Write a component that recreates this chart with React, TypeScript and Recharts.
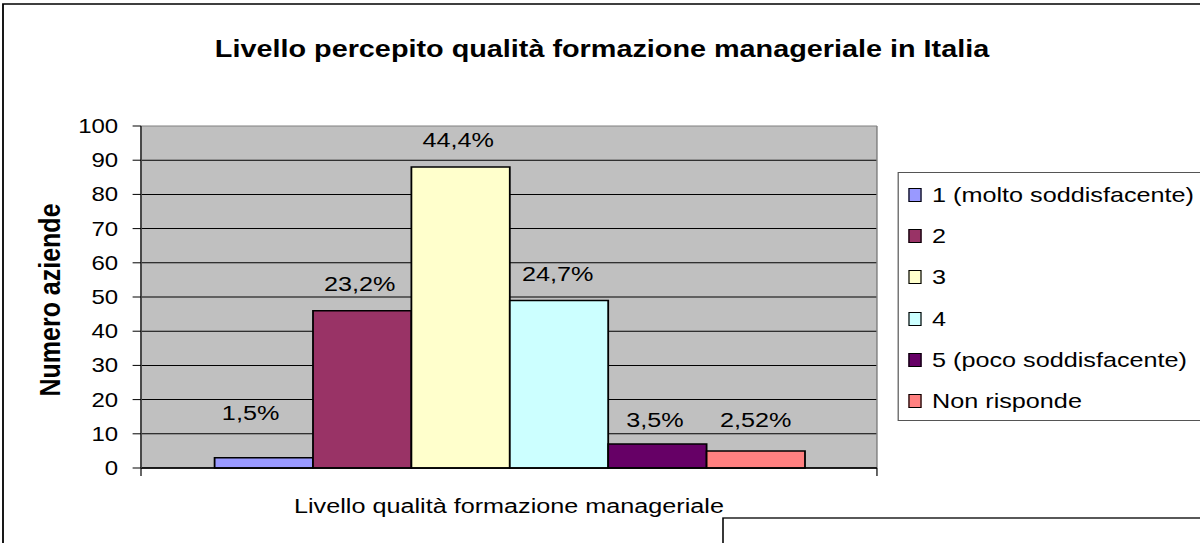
import React from "react";
import {
  BarChart,
  Bar,
  XAxis,
  YAxis,
  CartesianGrid,
  Legend,
  Label,
  LabelList,
} from "recharts";

// ---------- data ----------
const TITLE = "Livello percepito qualità formazione manageriale in Italia";
const CATEGORY = "Livello qualità formazione manageriale";
const Y_TITLE = "Numero aziende";
const seriesNames = [
  "1 (molto soddisfacente)",
  "2",
  "3",
  "4",
  "5 (poco soddisfacente)",
  "Non risponde",
];
const seriesValues = [3, 46, 88, 49, 7, 5];
const percentLabels = ["1,5%", "23,2%", "44,4%", "24,7%", "3,5%", "2,52%"];
const yTicks = [0, 10, 20, 30, 40, 50, 60, 70, 80, 90, 100];
const edgeTicks = [0, 1];

// ---------- styles ----------
const seriesColors = ["#9999FF", "#993366", "#FFFFCC", "#CCFFFF", "#660066", "#FF8080"];
const labelDx = [-11, -2, -2, -1, -2, 0];
const labelLift = [45, 27, 27, 27, 24, 31];
const FONT = '"Liberation Sans", Arial, sans-serif';
const STRETCH = 1.2;
const W = 1000;
const H = 543;
const M_TOP = 126;
const M_RIGHT = 269.2;
const Y_AXIS_W = 117.5;
const X_AXIS_H = 75;

const chartData = [
  seriesValues.reduce(
    (row: Record<string, any>, v, i) => {
      row["v" + i] = v;
      return row;
    },
    { name: CATEGORY, edge: 0.5 } as Record<string, any>
  ),
];

const makeLabel = (i: number) => (p: any) => {
  const vb = p.viewBox && p.viewBox.width !== undefined ? p.viewBox : p;
  const x = Number(vb.x) + Number(vb.width) / 2 + labelDx[i];
  const y = Number(vb.y) - labelLift[i];
  return (
    <text
      x={x}
      y={y}
      textAnchor="middle"
      dominantBaseline="central"
      fontSize={21}
      fontFamily={FONT}
      fill="#000"
    >
      {percentLabels[i]}
    </text>
  );
};

const renderHLine = (p: any) => (
  <line
    key={"h" + p.index + "-" + p.y1}
    x1={p.x1}
    y1={p.y1}
    x2={p.x2}
    y2={p.y2}
    stroke={p.y1 <= M_TOP + 1 ? "#808080" : "#000"}
    strokeWidth={1}
  />
);

const renderVLine = (p: any) => (
  <line
    key={"v" + p.index + "-" + p.x1}
    x1={p.x1}
    y1={p.y1}
    x2={p.x2}
    y2={p.y2}
    stroke="#808080"
    strokeWidth={1.2}
  />
);

const renderYTitle = (p: any) => {
  const vb = p.viewBox || {};
  const cx = Number(vb.x) + 41.7;
  const cy = Number(vb.y) + Number(vb.height) / 2 + 3;
  return (
    <text
      x={cx}
      y={cy}
      transform={`rotate(-90, ${cx}, ${cy})`}
      textAnchor="middle"
      dominantBaseline="central"
      fontSize={25}
      fontWeight="bold"
      fontFamily={FONT}
      fill="#000"
    >
      {Y_TITLE}
    </text>
  );
};

const renderLegend = () => (
  <div
    style={{
      width: 255,
      height: 249,
      boxSizing: "border-box",
      border: "1px solid #555",
      background: "#fff",
      paddingTop: 1.4,
      fontFamily: FONT,
      fontSize: 21,
      color: "#000",
    }}
  >
    {seriesNames.map((n, i) => (
      <div
        key={n}
        style={{ height: 41.2, display: "flex", alignItems: "center", whiteSpace: "nowrap" }}
      >
        <span
          style={{
            display: "inline-block",
            width: 9.7,
            height: 12,
            border: "1px solid #000",
            background: seriesColors[i],
            marginLeft: 7.4,
            marginRight: 8.3,
            flex: "none",
          }}
        />
        <span>{n}</span>
      </div>
    ))}
  </div>
);

export default function App() {
  return (
    <div
      style={{
        position: "absolute",
        left: 0,
        top: 0,
        width: W,
        height: H,
        transform: `scaleX(${STRETCH})`,
        transformOrigin: "0 0",
        background: "#fff",
      }}
    >
      <svg
        width={W}
        height={H}
        style={{ position: "absolute", left: 0, top: 0, pointerEvents: "none" }}
      >
        <rect x={2.5} y={4} width={W + 20} height={H + 20} fill="none" stroke="#000" strokeWidth={1.5} />
        <rect x={602.5} y={518} width={W} height={100} fill="none" stroke="#000" strokeWidth={1.3} />
        <text
          x={501.7}
          y={57}
          textAnchor="middle"
          fontSize={24}
          fontWeight="bold"
          fontFamily={FONT}
          fill="#000"
        >
          {TITLE}
        </text>
      </svg>
      <div style={{ position: "absolute", left: 0, top: 0 }}>
        <BarChart
          width={W}
          height={H}
          data={chartData}
          margin={{ top: M_TOP, right: M_RIGHT, bottom: 0, left: 0 }}
          barCategoryGap="10%"
          barGap={0}
        >
          <CartesianGrid
            xAxisId="num"
            fill="#C0C0C0"
            fillOpacity={1}
            horizontal={renderHLine}
            vertical={renderVLine}
          />
          <XAxis
            xAxisId="num"
            dataKey="edge"
            type="number"
            domain={[0, 1]}
            allowDataOverflow={true}
            ticks={edgeTicks}
            interval={0}
            height={X_AXIS_H}
            tickSize={8}
            tickFormatter={() => ""}
            axisLine={{ stroke: "#000", strokeWidth: 1.5 }}
            tickLine={{ stroke: "#000" }}
          >
            <Label
              value={CATEGORY}
              position="insideBottom"
              offset={30}
              fontSize={21}
              fontFamily={FONT}
              fill="#000"
            />
          </XAxis>
          <XAxis dataKey="name" hide height={0} />
          <YAxis
            domain={[0, 100]}
            ticks={yTicks}
            interval={0}
            width={Y_AXIS_W}
            tickSize={7}
            tickMargin={12}
            axisLine={{ stroke: "#404040", strokeWidth: 1.5 }}
            tickLine={{ stroke: "#000" }}
            tick={{ fontSize: 20, fill: "#000", fontFamily: FONT }}
          >
            <Label content={renderYTitle} position="center" />
          </YAxis>
          {seriesNames.map((n, i) => (
            <Bar
              key={n}
              dataKey={"v" + i}
              name={n}
              fill={seriesColors[i]}
              stroke="#000"
              strokeWidth={1.5}
              isAnimationActive={false}
            >
              <LabelList dataKey={"v" + i} content={makeLabel(i)} />
            </Bar>
          ))}
          <Legend
            layout="vertical"
            align="center"
            verticalAlign="middle"
            content={renderLegend}
            wrapperStyle={{ left: 748.3, top: 172, width: 255, height: 249 }}
          />
        </BarChart>
      </div>
    </div>
  );
}
